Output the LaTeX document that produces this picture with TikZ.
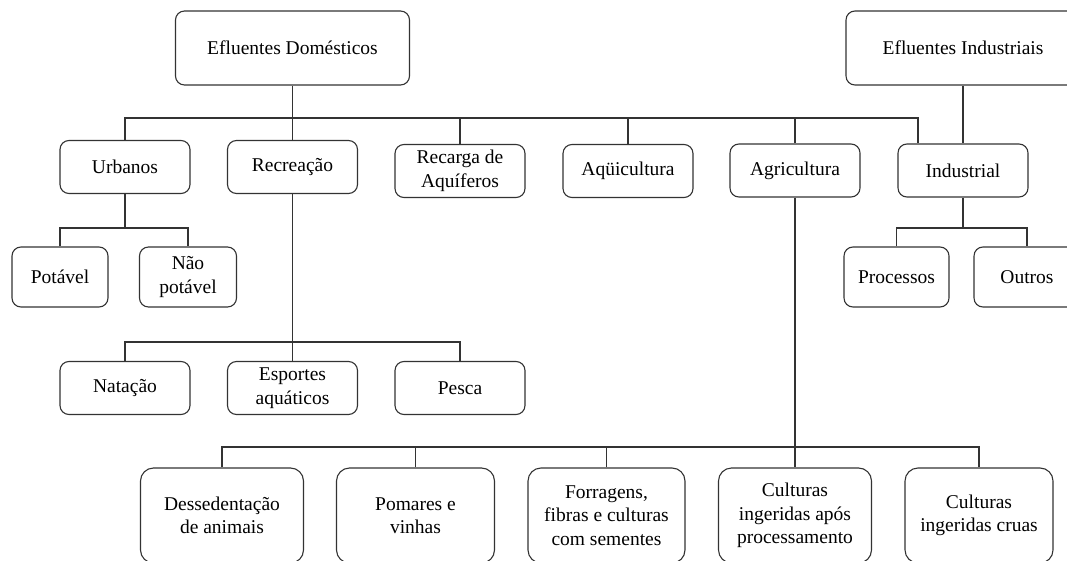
\documentclass[tikz,border=0pt]{standalone}
\usepackage{fontspec}
\setmainfont{Liberation Serif}
\usetikzlibrary{positioning}

\begin{document}
\begin{tikzpicture}[x=1pt, y=-1pt,
    box/.style={rectangle, draw=black!80, line width=1.1pt, rounded corners=9pt, align=center, inner sep=2pt, font=\fontsize{19.5}{23.5}\selectfont},
    topbox/.style={box, minimum width=234pt, minimum height=74pt},
    midbox/.style={box, minimum width=130pt, minimum height=53pt},
    leafbox/.style={box, minimum height=60pt},
    lowbox/.style={box, rounded corners=13pt, minimum height=95pt},
    link/.style={draw=black!80, line width=1.1pt}]
    \path[use as bounding box, clip] (0,0) rectangle (1067,561);

    \node[topbox] (domest) at (292.5,48) {Efluentes Domésticos};
    \node[topbox] (indust) at (963,48) {Efluentes Industriais};

    \node[midbox] (urban) at (125,167) {Urbanos};
    \node[midbox] (recre) at (292.5,167) {Recreação};
    \node[midbox] (recarga) at (460,171) {Recarga de\\Aquíferos};
    \node[midbox] (aqui) at (628,171) {Aqüicultura};
    \node[midbox] (agri) at (795,170.5) {Agricultura};
    \node[midbox] (industr) at (963,170.5) {Industrial};

    \node[leafbox, minimum width=96pt] (potavel) at (60,277) {Potável};
    \node[leafbox, minimum width=97pt] (naopot) at (188,277) {Não\\potável};
    \node[leafbox, minimum width=105pt] (proc) at (896.5,277) {Processos};
    \node[leafbox, minimum width=106pt] (outros) at (1027,277) {Outros};

    \node[midbox] (natacao) at (125,388) {Natação};
    \node[midbox] (esportes) at (292.5,388) {Esportes\\aquáticos};
    \node[midbox] (pesca) at (460,388) {Pesca};

    \node[lowbox, minimum width=163pt] (dessed) at (222,515.5) {Dessedentação\\de animais};
    \node[lowbox, minimum width=158pt] (pomares) at (415.5,515.5) {Pomares e\\vinhas};
    \node[lowbox, minimum width=157pt] (forrag) at (606.5,515.5) {Forragens,\\fibras e culturas\\com sementes};
    \node[lowbox, minimum width=153pt] (cultproc) at (795,515.5) {Culturas\\ingeridas após\\processamento};
    \node[lowbox, minimum width=148pt] (cultcrua) at (979,515.5) {Culturas\\ingeridas cruas};

    \coordinate (busA) at (0,118);
    \coordinate (subA) at (0,228);
    \coordinate (busB) at (0,342);
    \coordinate (busC) at (0,447);

    \draw[link] (domest.south) -- (recre.north);
    \draw[link] (urban.north) |- ([xshift=-45pt]industr.north |- busA) -- ([xshift=-45pt]industr.north);
    \foreach \n in {recarga,aqui,agri}
        \draw[link] (\n.north) -- (\n.north |- busA);
    \draw[link] (indust.south) -- (industr.north);

    \draw[link] (urban.south) -- (urban.south |- subA);
    \draw[link] (potavel.north) |- (naopot.north |- subA) -- (naopot.north);
    \draw[link] (industr.south) -- (industr.south |- subA);
    \draw[link] (proc.north) |- (outros.north |- subA) -- (outros.north);

    \draw[link] (recre.south) -- (esportes.north);
    \draw[link] (natacao.north) |- (pesca.north |- busB) -- (pesca.north);

    \draw[link] (agri.south) -- (cultproc.north);
    \draw[link] (dessed.north) |- (cultcrua.north |- busC) -- (cultcrua.north);
    \foreach \n in {pomares,forrag}
        \draw[link] (\n.north) -- (\n.north |- busC);
\end{tikzpicture}
\end{document}
